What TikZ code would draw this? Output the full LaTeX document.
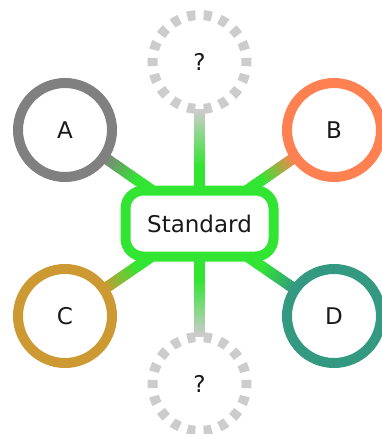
\documentclass[tikz,border=0pt]{standalone}
\usepackage{fontspec}
\setmainfont{DejaVu Sans}
\usetikzlibrary{calc,backgrounds}
\definecolor{grn}{HTML}{33E533}
\definecolor{cA}{HTML}{808080}
\definecolor{cB}{HTML}{FF8050}
\definecolor{cC}{HTML}{CC9933}
\definecolor{cD}{HTML}{339980}
\definecolor{qgray}{HTML}{CCCCCC}
\definecolor{txt}{HTML}{1A1A1A}
\begin{document}
\begin{tikzpicture}[x=1pt,y=-1pt,
  lbl/.style={font=\fontsize{23}{27}\selectfont, text=txt},
  ring/.style={circle, line width=10pt, minimum size=94pt, inner sep=0pt, outer sep=0pt, fill=white, lbl},
  qring/.style={ring, draw=qgray, dash pattern=on 8.2pt off 8.2pt, dash phase=4.1pt},
  hub/.style={rectangle, rounded corners=18pt, draw=grn, line width=10pt, minimum width=148pt, minimum height=66pt, fill=white, outer sep=0pt, inner sep=0pt, lbl}
]
\useasboundingbox (0,0) rectangle (381,434);
\node[hub] (S) at (199.5,223.5) {Standard};
\node[ring, draw=cA] (A) at (65,130) {A};
\node[ring, draw=cB] (B) at (334,130) {B};
\node[ring, draw=cC] (C) at (65,316) {C};
\node[ring, draw=cD] (D) at (334,316) {D};
\node[qring] (Q1) at (199.5,62) {?};
\node[qring] (Q2) at (199.5,384) {?};
\begin{scope}[on background layer]
\foreach \n/\c in {A/cA, B/cB, C/cC, D/cD, Q1/qgray, Q2/qgray} {
  \path (\n) -- (S) coordinate[pos=0] (p0) coordinate[pos=1] (p1);
  \foreach \i in {0,...,29} {
    \pgfmathtruncatemacro\pc{min(100, \i/29*100/0.7)}
    \draw[line width=11pt, draw=grn!\pc!\c] ($(p0)!\i/30!(p1)$) -- ($(p0)!{(\i+1.3)/30}!(p1)$);
  }
}
\end{scope}
\end{tikzpicture}
\end{document}
